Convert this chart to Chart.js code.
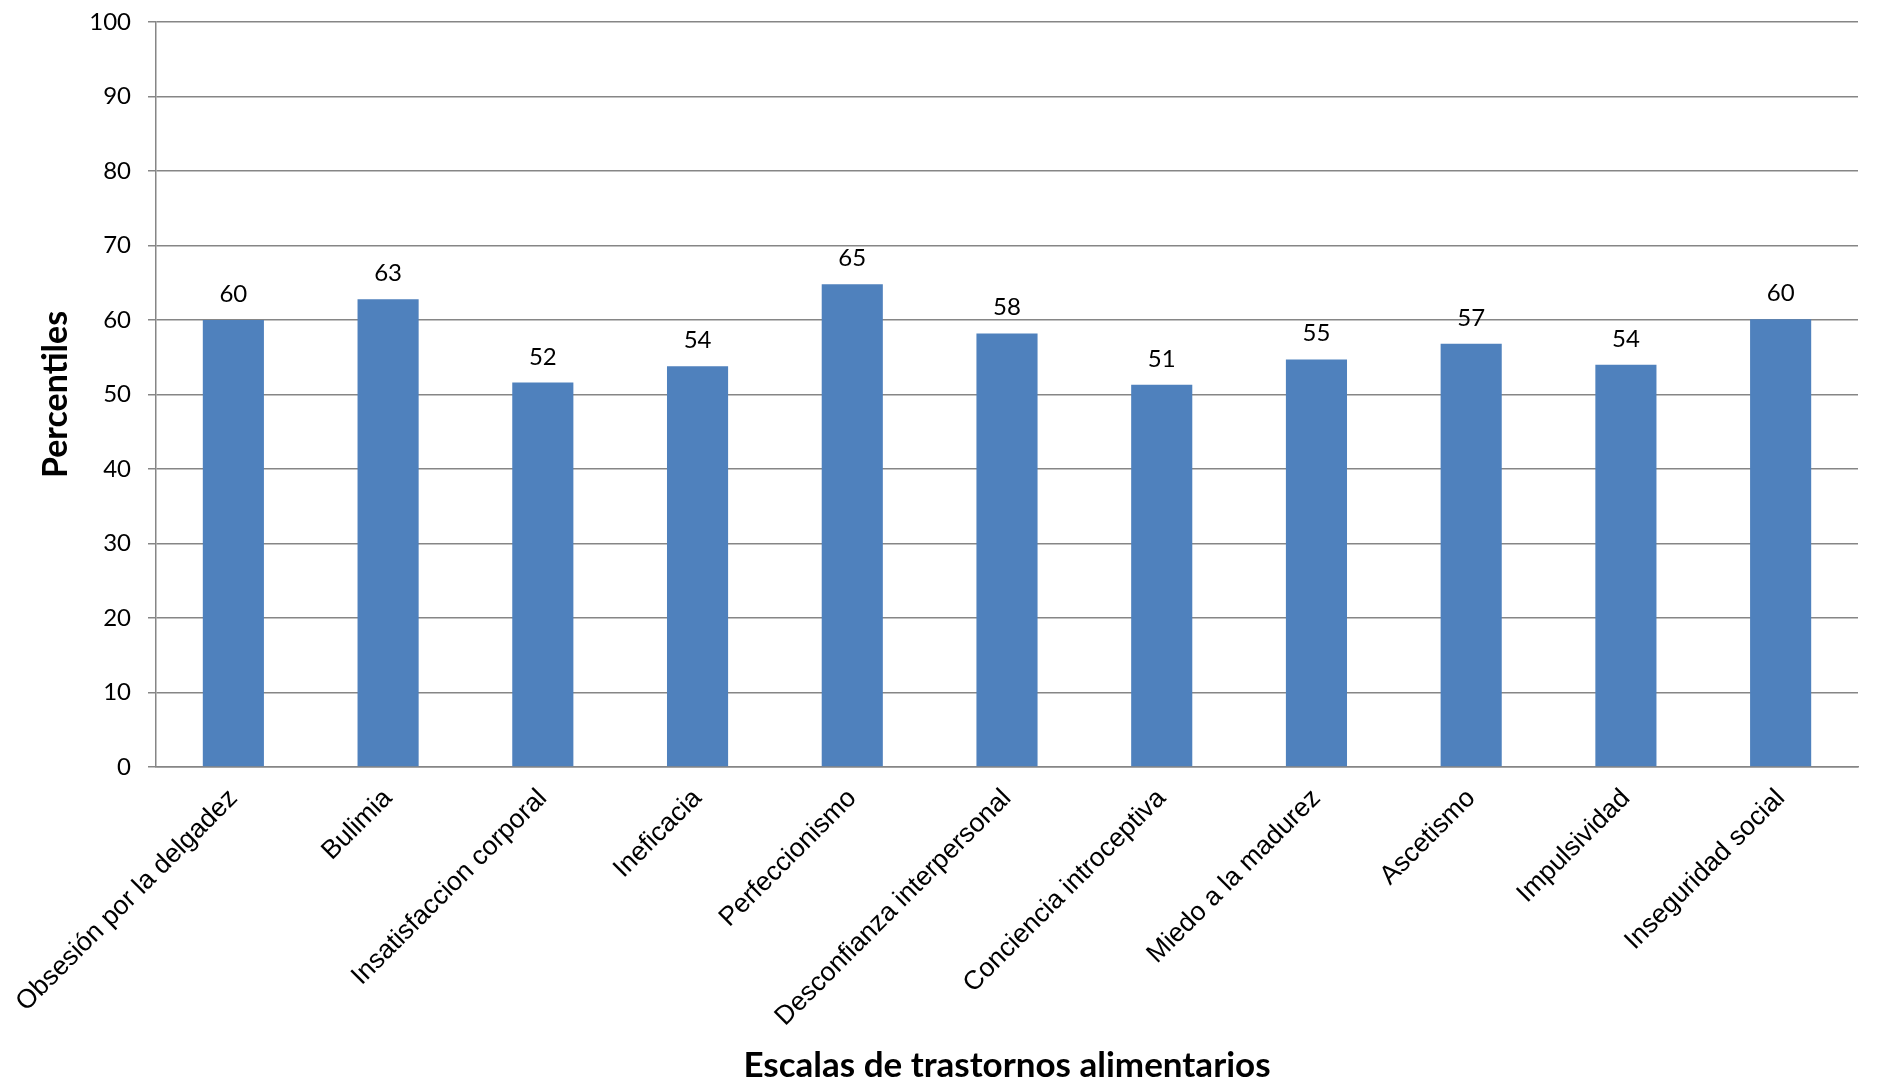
<!DOCTYPE html>
<html>
<head>
<meta charset="utf-8">
<script src="https://cdn.jsdelivr.net/npm/chart.js@4/dist/chart.umd.min.js"></script>
<style>
  html, body { margin: 0; padding: 0; background: #fff; }
  #wrap { width: 1880px; height: 1091px; }
</style>
</head>
<body>
<div id="wrap"><canvas id="chartEscalas" width="1880" height="1091"></canvas></div>
<script>
const categorias = [
  'Obsesión por la delgadez', 'Bulimia', 'Insatisfaccion corporal', 'Ineficacia',
  'Perfeccionismo', 'Desconfianza interpersonal', 'Conciencia introceptiva',
  'Miedo a la madurez', 'Ascetismo', 'Impulsividad', 'Inseguridad social'
];
const percentiles = [60.0, 62.8, 51.6, 53.8, 64.8, 58.2, 51.3, 54.7, 56.8, 54.0, 60.1];
const yTicks = [0, 10, 20, 30, 40, 50, 60, 70, 80, 90, 100];

const GRID = '#868686';

// etiquetas de valor encima de cada barra
const etiquetasBarras = {
  id: 'etiquetasBarras',
  afterDatasetsDraw(chart) {
    const { ctx } = chart;
    const meta = chart.getDatasetMeta(0);
    ctx.save();
    ctx.font = '24px Lato';
    ctx.fillStyle = '#000';
    ctx.textAlign = 'center';
    ctx.textBaseline = 'alphabetic';
    meta.data.forEach((bar, i) => {
      ctx.fillText(String(Math.round(percentiles[i])), bar.x, bar.y - 18);
    });
    ctx.restore();
  }
};

const ctx = document.getElementById('chartEscalas');
new Chart(ctx.getContext('2d'), {
  type: 'bar',
  data: {
    labels: categorias,
    datasets: [{
      label: 'Percentiles',
      data: percentiles,
      backgroundColor: '#4F81BD',
      borderWidth: 0,
      categoryPercentage: 1,
      barPercentage: 0.395
    }]
  },
  options: {
    responsive: false,
    devicePixelRatio: 1,
    animation: false,
    layout: { padding: { left: 0, right: 22, top: 22, bottom: 0 } },
    plugins: { legend: { display: false }, tooltip: { enabled: false } },
    scales: {
      x: {
        grid: { display: false },
        border: { display: true, color: GRID, width: 1.5 },
        ticks: {
          color: '#000',
          font: { family: 'Liberation Sans', size: 26.5 },
          minRotation: 45,
          maxRotation: 45,
          autoSkip: false,
          padding: 8
        },
        title: {
          display: true,
          text: 'Escalas de trastornos alimentarios',
          color: '#000',
          font: { family: 'Lato', size: 35, weight: 'bold' },
          padding: { top: 0, bottom: 4 }
        },
        afterFit(scale) { scale.height = 324; }
      },
      y: {
        min: 0,
        max: 100,
        afterBuildTicks(scale) { scale.ticks = yTicks.map(v => ({ value: v })); },
        grid: { color: GRID, lineWidth: 1.5, tickLength: 8 },
        border: { display: true, color: GRID, width: 1.5 },
        ticks: {
          color: '#000',
          font: { family: 'Lato', size: 24 },
          padding: 17
        },
        title: {
          display: true,
          text: 'Percentiles',
          color: '#000',
          font: { family: 'Lato', size: 34, weight: 'bold' },
          padding: { top: 36, bottom: 0 }
        },
        afterFit(scale) {
          scale.width = 156;
          scale.paddingTop = 0;
          scale.paddingBottom = 0;
        }
      }
    }
  },
  plugins: [etiquetasBarras]
});
</script>
</body>
</html>
